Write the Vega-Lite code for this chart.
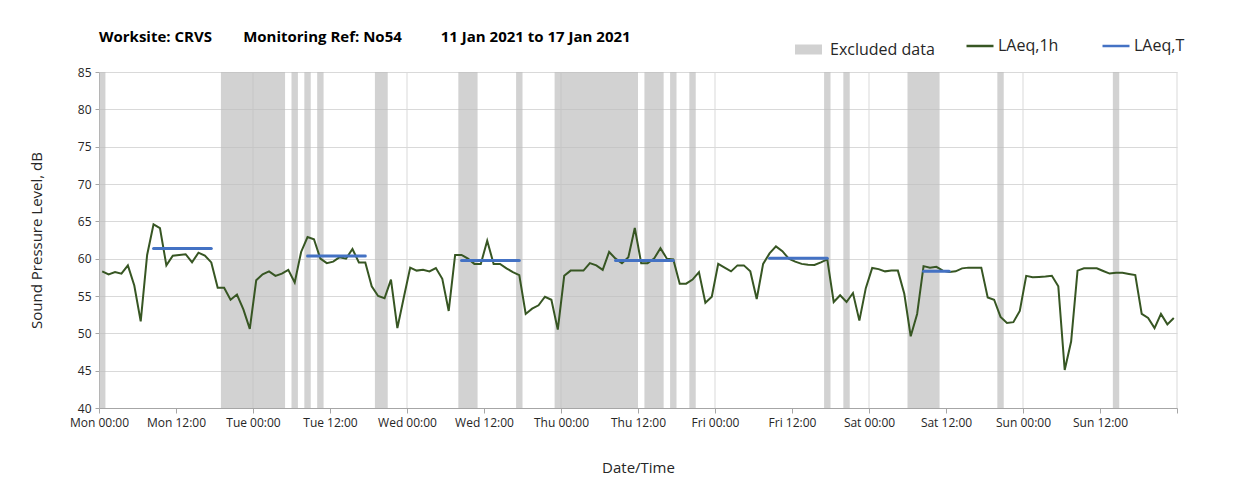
{
  "width": 1078,
  "height": 336,
  "autosize": "none",
  "padding": {"left": 99, "top": 72, "right": 59, "bottom": 90},
  "background": "white",
  "config": {"font": "Open Sans", "view": {"stroke": null}},
  "title": {
    "text": "Worksite: CRVS\u00a0\u00a0\u00a0\u00a0\u00a0\u00a0\u00a0\u00a0Monitoring Ref: No54\u00a0\u00a0\u00a0\u00a0\u00a0\u00a0\u00a0\u00a0\u00a0\u00a011 Jan 2021 to 17 Jan 2021",
    "anchor": "start",
    "frame": "group",
    "fontSize": 15,
    "fontWeight": "bold",
    "color": "#000000",
    "offset": 22,
    "dy": 36
  },
  "layer": [
    {
      "data": {"values": [{"h": 24}, {"h": 48}, {"h": 72}, {"h": 96}, {"h": 120}, {"h": 144}, {"h": 168}]},
      "mark": {"type": "rule", "color": "#d9d9d9", "strokeWidth": 1},
      "encoding": {
        "x": {"field": "h", "type": "quantitative"}
      }
    },
    {
      "data": {"values": [
        {"start": 0, "end": 1}, {"start": 19, "end": 29}, {"start": 30, "end": 31}, {"start": 32, "end": 33},
        {"start": 34, "end": 35}, {"start": 43, "end": 45}, {"start": 56, "end": 59}, {"start": 65, "end": 66},
        {"start": 71, "end": 84}, {"start": 85, "end": 88}, {"start": 89, "end": 90}, {"start": 92, "end": 93},
        {"start": 113, "end": 114}, {"start": 116, "end": 117}, {"start": 126, "end": 131}, {"start": 140, "end": 141},
        {"start": 158, "end": 159}
      ]},
      "mark": {"type": "rect", "opacity": 0.68},
      "encoding": {
        "x": {"field": "start", "type": "quantitative"},
        "x2": {"field": "end"},
        "y": {
          "datum": 85,
          "type": "quantitative",
          "scale": {"domain": [40, 85], "nice": false, "zero": false},
          "axis": {
            "title": "Sound Pressure Level, dB",
            "titleFontSize": 15,
            "titleFontWeight": "normal",
            "titleColor": "#262626",
            "titlePadding": 33,
            "values": [40, 45, 50, 55, 60, 65, 70, 75, 80, 85],
            "labelOverlap": false,
            "labelFontSize": 12,
            "labelColor": "#262626",
            "labelPadding": 4,
            "tickSize": 4,
            "tickColor": "#a6a6a6",
            "domainColor": "#a6a6a6",
            "grid": true,
            "gridColor": "#d9d9d9"
          }
        },
        "y2": {"datum": 40},
        "fill": {
          "datum": "Excluded data",
          "type": "nominal",
          "scale": {"domain": ["Excluded data"], "range": ["#bcbcbc"]},
          "legend": {
            "title": null,
            "orient": "none",
            "legendX": 691,
            "legendY": -41,
            "padding": 0,
            "symbolType": "stroke",
            "symbolSize": 729,
            "symbolStrokeWidth": 10,
            "symbolStrokeColor": "#bcbcbc",
            "labelFontSize": 16,
            "labelColor": "#262626",
            "labelOffset": 3
          }
        }
      }
    },
    {
      "data": {"values": [
        {"h": 0.5, "v": 58.3}, {"h": 1.5, "v": 57.9}, {"h": 2.5, "v": 58.2}, {"h": 3.5, "v": 58.0}, {"h": 4.5, "v": 59.1}, {"h": 5.5, "v": 56.4},
        {"h": 6.5, "v": 51.6}, {"h": 7.5, "v": 60.5}, {"h": 8.5, "v": 64.6}, {"h": 9.5, "v": 64.1}, {"h": 10.5, "v": 59.1}, {"h": 11.5, "v": 60.4},
        {"h": 12.5, "v": 60.5}, {"h": 13.5, "v": 60.6}, {"h": 14.5, "v": 59.5}, {"h": 15.5, "v": 60.8}, {"h": 16.5, "v": 60.4}, {"h": 17.5, "v": 59.5},
        {"h": 18.5, "v": 56.1}, {"h": 19.5, "v": 56.1}, {"h": 20.5, "v": 54.5}, {"h": 21.5, "v": 55.2}, {"h": 22.5, "v": 53.2}, {"h": 23.5, "v": 50.6},
        {"h": 24.5, "v": 57.1}, {"h": 25.5, "v": 57.9}, {"h": 26.5, "v": 58.3}, {"h": 27.5, "v": 57.7}, {"h": 28.5, "v": 58.0}, {"h": 29.5, "v": 58.5},
        {"h": 30.5, "v": 56.8}, {"h": 31.5, "v": 60.9}, {"h": 32.5, "v": 62.9}, {"h": 33.5, "v": 62.6}, {"h": 34.5, "v": 60.0}, {"h": 35.5, "v": 59.4},
        {"h": 36.5, "v": 59.6}, {"h": 37.5, "v": 60.2}, {"h": 38.5, "v": 60.0}, {"h": 39.5, "v": 61.3}, {"h": 40.5, "v": 59.5}, {"h": 41.5, "v": 59.5},
        {"h": 42.5, "v": 56.3}, {"h": 43.5, "v": 55.0}, {"h": 44.5, "v": 54.7}, {"h": 45.5, "v": 57.2}, {"h": 46.5, "v": 50.7}, {"h": 47.5, "v": 54.8},
        {"h": 48.5, "v": 58.8}, {"h": 49.5, "v": 58.4}, {"h": 50.5, "v": 58.5}, {"h": 51.5, "v": 58.3}, {"h": 52.5, "v": 58.75}, {"h": 53.5, "v": 57.3},
        {"h": 54.5, "v": 53.0}, {"h": 55.5, "v": 60.5}, {"h": 56.5, "v": 60.5}, {"h": 57.5, "v": 60.0}, {"h": 58.5, "v": 59.3}, {"h": 59.5, "v": 59.3},
        {"h": 60.5, "v": 62.4}, {"h": 61.5, "v": 59.3}, {"h": 62.5, "v": 59.3}, {"h": 63.5, "v": 58.7}, {"h": 64.5, "v": 58.2}, {"h": 65.5, "v": 57.8},
        {"h": 66.5, "v": 52.6}, {"h": 67.5, "v": 53.3}, {"h": 68.5, "v": 53.75}, {"h": 69.5, "v": 54.9}, {"h": 70.5, "v": 54.5}, {"h": 71.5, "v": 50.5},
        {"h": 72.5, "v": 57.7}, {"h": 73.5, "v": 58.4}, {"h": 74.5, "v": 58.4}, {"h": 75.5, "v": 58.4}, {"h": 76.5, "v": 59.4}, {"h": 77.5, "v": 59.1},
        {"h": 78.5, "v": 58.5}, {"h": 79.5, "v": 60.9}, {"h": 80.5, "v": 60.0}, {"h": 81.5, "v": 59.4}, {"h": 82.5, "v": 60.2}, {"h": 83.5, "v": 64.1},
        {"h": 84.5, "v": 59.4}, {"h": 85.5, "v": 59.4}, {"h": 86.5, "v": 60.0}, {"h": 87.5, "v": 61.4}, {"h": 88.5, "v": 60.0}, {"h": 89.5, "v": 59.9},
        {"h": 90.5, "v": 56.65}, {"h": 91.5, "v": 56.65}, {"h": 92.5, "v": 57.2}, {"h": 93.5, "v": 58.2}, {"h": 94.5, "v": 54.1}, {"h": 95.5, "v": 54.9},
        {"h": 96.5, "v": 59.3}, {"h": 97.5, "v": 58.8}, {"h": 98.5, "v": 58.3}, {"h": 99.5, "v": 59.1}, {"h": 100.5, "v": 59.1}, {"h": 101.5, "v": 58.3},
        {"h": 102.5, "v": 54.6}, {"h": 103.5, "v": 59.3}, {"h": 104.5, "v": 60.7}, {"h": 105.5, "v": 61.65}, {"h": 106.5, "v": 61.0}, {"h": 107.5, "v": 60.0},
        {"h": 108.5, "v": 59.6}, {"h": 109.5, "v": 59.3}, {"h": 110.5, "v": 59.2}, {"h": 111.5, "v": 59.15}, {"h": 112.5, "v": 59.5}, {"h": 113.5, "v": 59.9},
        {"h": 114.5, "v": 54.2}, {"h": 115.5, "v": 55.1}, {"h": 116.5, "v": 54.2}, {"h": 117.5, "v": 55.4}, {"h": 118.5, "v": 51.7}, {"h": 119.5, "v": 56.05},
        {"h": 120.5, "v": 58.75}, {"h": 121.5, "v": 58.6}, {"h": 122.5, "v": 58.3}, {"h": 123.5, "v": 58.4}, {"h": 124.5, "v": 58.4}, {"h": 125.5, "v": 55.3},
        {"h": 126.5, "v": 49.6}, {"h": 127.5, "v": 52.6}, {"h": 128.5, "v": 59.0}, {"h": 129.5, "v": 58.8}, {"h": 130.5, "v": 58.9}, {"h": 131.5, "v": 58.4},
        {"h": 132.5, "v": 58.2}, {"h": 133.5, "v": 58.3}, {"h": 134.5, "v": 58.7}, {"h": 135.5, "v": 58.8}, {"h": 136.5, "v": 58.8}, {"h": 137.5, "v": 58.8},
        {"h": 138.5, "v": 54.8}, {"h": 139.5, "v": 54.5}, {"h": 140.5, "v": 52.2}, {"h": 141.5, "v": 51.4}, {"h": 142.5, "v": 51.5}, {"h": 143.5, "v": 53.0},
        {"h": 144.5, "v": 57.7}, {"h": 145.5, "v": 57.5}, {"h": 146.5, "v": 57.55}, {"h": 147.5, "v": 57.6}, {"h": 148.5, "v": 57.7}, {"h": 149.5, "v": 56.3},
        {"h": 150.5, "v": 45.1}, {"h": 151.5, "v": 48.9}, {"h": 152.5, "v": 58.4}, {"h": 153.5, "v": 58.7}, {"h": 154.5, "v": 58.7}, {"h": 155.5, "v": 58.7},
        {"h": 156.5, "v": 58.35}, {"h": 157.5, "v": 58.0}, {"h": 158.5, "v": 58.1}, {"h": 159.5, "v": 58.1}, {"h": 160.5, "v": 57.95}, {"h": 161.5, "v": 57.8},
        {"h": 162.5, "v": 52.6}, {"h": 163.5, "v": 52.05}, {"h": 164.5, "v": 50.7}, {"h": 165.5, "v": 52.6}, {"h": 166.5, "v": 51.2}, {"h": 167.5, "v": 52.05}
      ]},
      "mark": {"type": "line", "strokeWidth": 2},
      "encoding": {
        "x": {
          "field": "h",
          "type": "quantitative",
          "scale": {"domain": [0, 168], "nice": false, "zero": false},
          "axis": {
            "title": "Date/Time",
            "titleFontSize": 15,
            "titleFontWeight": "normal",
            "titleColor": "#262626",
            "titlePadding": 32,
            "values": [0, 12, 24, 36, 48, 60, 72, 84, 96, 108, 120, 132, 144, 156, 168],
            "labelExpr": "datum.value >= 168 ? '' : ['Mon','Tue','Wed','Thu','Fri','Sat','Sun'][floor(datum.value / 24)] + (datum.value % 24 == 0 ? ' 00:00' : ' 12:00')",
            "labelOverlap": false,
            "labelFlush": false,
            "labelFontSize": 12,
            "labelColor": "#262626",
            "labelPadding": 4,
            "tickSize": 5,
            "tickColor": "#a6a6a6",
            "domainColor": "#a6a6a6",
            "grid": false
          }
        },
        "y": {
          "field": "v",
          "type": "quantitative",
          "scale": {"domain": [40, 85], "nice": false, "zero": false},
          "axis": {
            "title": "Sound Pressure Level, dB",
            "titleFontSize": 15,
            "titleFontWeight": "normal",
            "titleColor": "#262626",
            "titlePadding": 33,
            "values": [40, 45, 50, 55, 60, 65, 70, 75, 80, 85],
            "labelOverlap": false,
            "labelFontSize": 12,
            "labelColor": "#262626",
            "labelPadding": 4,
            "tickSize": 4,
            "tickColor": "#a6a6a6",
            "domainColor": "#a6a6a6",
            "grid": true,
            "gridColor": "#d9d9d9"
          }
        },
        "color": {
          "datum": "LAeq,1h",
          "type": "nominal",
          "scale": {"domain": ["LAeq,1h", "LAeq,T"], "range": ["#375623", "#4472c4"]},
          "legend": {
            "title": null,
            "orient": "none",
            "legendX": 866,
            "legendY": -41,
            "direction": "horizontal",
            "columns": 2,
            "columnPadding": 38,
            "padding": 0,
            "symbolType": "stroke",
            "symbolSize": 729,
            "symbolStrokeWidth": 2.5,
            "labelFontSize": 16,
            "labelColor": "#262626",
            "labelOffset": 3
          }
        }
      }
    },
    {
      "data": {"values": [
        {"start": 8.5, "end": 17.5, "v": 61.35},
        {"start": 32.5, "end": 41.5, "v": 60.35},
        {"start": 56.5, "end": 65.5, "v": 59.75},
        {"start": 80.5, "end": 89.5, "v": 59.75},
        {"start": 104.5, "end": 113.5, "v": 60.05},
        {"start": 128.5, "end": 132.5, "v": 58.3}
      ]},
      "mark": {"type": "rule", "strokeWidth": 3, "strokeCap": "round"},
      "encoding": {
        "x": {"field": "start", "type": "quantitative"},
        "x2": {"field": "end"},
        "y": {
          "field": "v",
          "type": "quantitative",
          "scale": {"domain": [40, 85], "nice": false, "zero": false},
          "axis": {
            "title": "Sound Pressure Level, dB",
            "titleFontSize": 15,
            "titleFontWeight": "normal",
            "titleColor": "#262626",
            "titlePadding": 33,
            "values": [40, 45, 50, 55, 60, 65, 70, 75, 80, 85],
            "labelOverlap": false,
            "labelFontSize": 12,
            "labelColor": "#262626",
            "labelPadding": 4,
            "tickSize": 4,
            "tickColor": "#a6a6a6",
            "domainColor": "#a6a6a6",
            "grid": true,
            "gridColor": "#d9d9d9"
          }
        },
        "color": {"datum": "LAeq,T", "type": "nominal"}
      }
    }
  ]
}
